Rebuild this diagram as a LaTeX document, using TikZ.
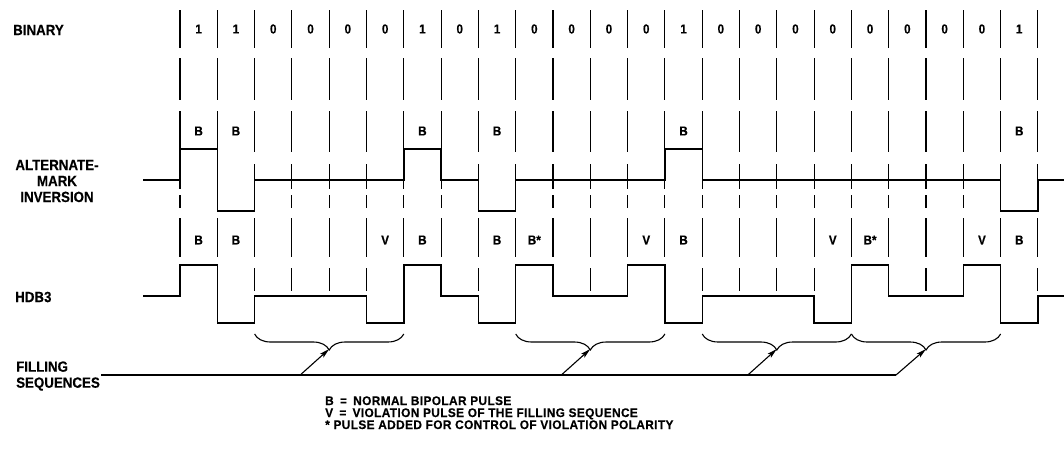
\documentclass[tikz,border=0pt]{standalone}
\usepackage{fontspec}
\setmainfont[FakeBold=0.3,FakeStretch=0.9]{Liberation Sans}
\newfontfamily\legfont[LetterSpace=3,FakeBold=0.3,FakeStretch=0.95]{Liberation Sans}
\usetikzlibrary{decorations.pathreplacing,arrows.meta,calc}
\begin{document}
\begin{tikzpicture}[x=1pt,y=-1pt,
  lbl/.style={font=\bfseries\fontsize{14.8}{16}\selectfont, inner sep=0pt},
  leg/.style={font=\legfont\bfseries\fontsize{12.5}{13}\selectfont, inner sep=0pt, anchor=base west},
  bitlbl/.style={font=\bfseries\fontsize{13}{14}\selectfont, inner sep=0pt},
  tick/.style={line width=1.1pt, black},
  wave/.style={line width=1.4pt, line join=miter},
  brc/.style={decorate, decoration={brace, amplitude=16pt, mirror}, line width=1.1pt},
  arr/.style={line width=1.1pt, -{Stealth[length=10pt,width=5pt,inset=2pt]}},
  fline/.style={line width=1.1pt}
]
\useasboundingbox (0,0) rectangle (1064,456);
\def\xo{180}\def\dx{37.3}
% ticks
\foreach \i in {0,...,23}{
  \pgfmathsetmacro\xx{\xo+\dx*\i}
  \draw[tick] (\xx,10) -- (\xx,48);
  \draw[tick] (\xx,58) -- (\xx,100);
  \draw[tick] (\xx,111) -- (\xx,152);
  \draw[tick] (\xx,164) -- (\xx,189);
  \draw[tick] (\xx,195) -- (\xx,208);
  \draw[tick] (\xx,218) -- (\xx,257);
  \draw[tick] (\xx,268) -- (\xx,291);
}
% binary digits
\foreach \b [count=\i from 0] in {1,1,0,0,0,0,1,0,1,0,0,0,0,1,0,0,0,0,0,0,0,0,1}{
  \node[bitlbl] (bin\i) at ({\xo+\dx*(\i+0.5)},29) {\b};
}
% AMI labels
\foreach \i in {0,1,6,8,13,22}{
  \node[bitlbl] (amib\i) at ({\xo+\dx*(\i+0.5)},131) {B};
}
% HDB3 labels
\foreach \i/\t in {0/B,1/B,5/V,6/B,8/B,9/B*,12/V,13/B,17/V,18/B*,21/V,22/B}{
  \node[bitlbl] (hdbl\i) at ({\xo+\dx*(\i+0.5)},240) {\t};
}
% AMI waveform
\draw[wave] (143,180) -- (\xo,180)
  \foreach \lv [count=\i] in {1,-1,0,0,0,0,1,0,-1,0,0,0,0,1,0,0,0,0,0,0,0,0,-1}{
    |- ({\xo+\dx*\i},{180-31*(\lv>0)+31*(\lv<0)})
  } |- (1064,180);
% HDB3 waveform
\draw[wave] (143,296) -- (\xo,296)
  \foreach \lv [count=\i] in {1,-1,0,0,0,-1,1,0,-1,1,0,0,1,-1,0,0,0,-1,1,0,0,1,-1}{
    |- ({\xo+\dx*\i},{296-31*(\lv>0)+27*(\lv<0)})
  } |- (1064,296);
% braces
\foreach \a/\b/\n in {2/6/1,9/13/2,14/18/3,18/22/4}{
  \coordinate (bl\n) at ({\xo+\dx*\a},334);
  \coordinate (br\n) at ({\xo+\dx*\b},334);
  \coordinate (cusp\n) at ({\xo+\dx*(\a+\b)/2},349);
  \draw[brc] (bl\n) -- (br\n);
}
% filling line and arrows
\coordinate (fstart) at (101,375);
\coordinate (fbend) at ($(cusp4)+(-30,26)$);
\foreach \n in {1,2,3}{
  \coordinate (fs\n) at ($(cusp\n)+(-29,26)$);
}
\draw[fline] (fstart) -- (fbend);
\draw[arr] (fbend) -- (cusp4);
\foreach \n in {1,2,3}{ \draw[arr] (fs\n) -- (cusp\n); }
% labels
\node[lbl, anchor=west] (binary) at (13,30) {BINARY};
\node[lbl, align=center] (ami) at (57,181) {ALTERNATE-\\MARK\\INVERSION};
\node[lbl, anchor=west] (hdb) at (15,297) {HDB3};
\node[lbl, anchor=west, align=left] (filling) at (16,376) {FILLING\\SEQUENCES};
\node[leg] (leg1) at (325,405) {B\enspace=\enspace NORMAL BIPOLAR PULSE};
\node[leg] (leg2) at (325,417) {V\enspace=\enspace VIOLATION PULSE OF THE FILLING SEQUENCE};
\node[leg] (leg3) at (325,429) {* PULSE ADDED FOR CONTROL OF VIOLATION POLARITY};
\end{tikzpicture}
\end{document}
